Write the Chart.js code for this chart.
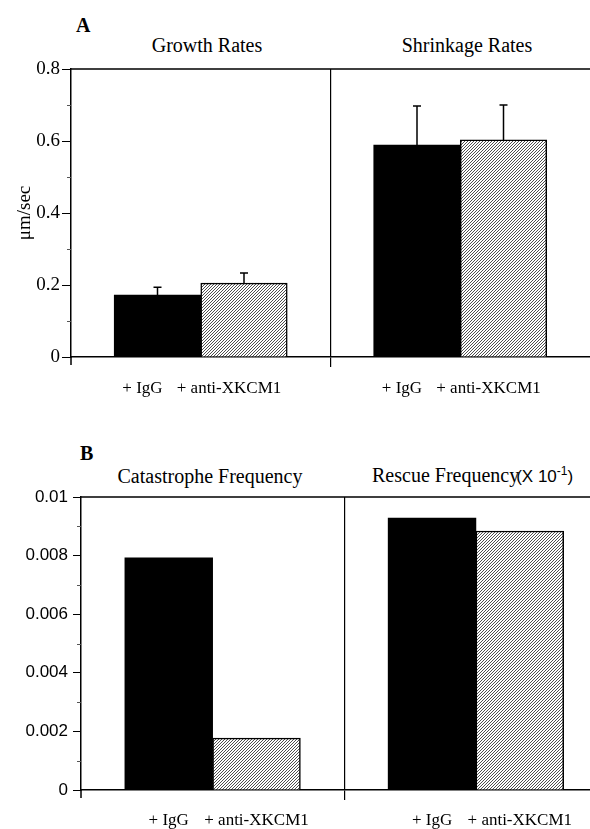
<!DOCTYPE html>
<html lang="en">
<head>
<meta charset="UTF-8">
<title>XKCM1 microtubule dynamics</title>
<script src="https://cdn.jsdelivr.net/npm/chart.js@4"></script>
<style>
  body { margin: 0; background: #fff; width: 590px; height: 829px; position: relative; overflow: hidden; font-family: 'Liberation Serif', serif; color: #000; }
  canvas { position: absolute; left: 0; }
  #chartA { top: 0; }
  #chartB { top: 400px; }
  .lbl { position: absolute; white-space: nowrap; font-size: 20px; line-height: 20px; }
  .letter { font-weight: bold; }
  .ctr { width: 300px; text-align: center; }
  .sans { font-family: 'Liberation Sans', Arial, sans-serif; font-size: 17px; margin-left: -3px; }
  .sans sup { font-size: 12px; vertical-align: 7px; line-height: 0; }
</style>
</head>
<body>
  <div class="lbl letter" style="left:76px; top:15px;">A</div>
  <div class="lbl ctr" style="left:57px; top:35px;">Growth Rates</div>
  <div class="lbl ctr" style="left:317px; top:35px;">Shrinkage Rates</div>

  <div class="lbl letter" style="left:80px; top:443px;">B</div>
  <div class="lbl ctr" style="left:60px; top:466px;">Catastrophe Frequency</div>
  <div class="lbl" style="left:372px; top:465px;">Rescue Frequency<span class="sans">(X 10<sup>-1</sup>)</span></div>

  <canvas id="chartA" width="590" height="400"></canvas>
  <canvas id="chartB" width="590" height="429"></canvas>

<script>
// data
const conditions = ['+ IgG', '+ anti-XKCM1'];

const growthRates = [0.172, 0.205];
const growthErr = [0.022, 0.028];
const shrinkageRates = [0.589, 0.603];
const shrinkageErr = [0.108, 0.097];

const catastropheFreq = [0.00792, 0.00177];
const rescueFreq = [0.00928, 0.00884];

const yTicksA = [0, 0.2, 0.4, 0.6, 0.8];
const yTickLabelsA = ['0', '0.2', '0.4', '0.6', '0.8'];
const yTicksB = [0, 0.002, 0.004, 0.006, 0.008, 0.01];
const yTickLabelsB = ['0', '0.002', '0.004', '0.006', '0.008', '0.01'];

// slot positions on the x scale: two sub-plots split at 3
const leftSlots = [1, 2];
const rightSlots = [4, 5];
const divider = 3;

function hatchPattern(ctx) {
  const tile = document.createElement('canvas');
  tile.width = 3;
  tile.height = 3;
  const g = tile.getContext('2d');
  g.fillStyle = '#fff';
  g.fillRect(0, 0, 3, 3);
  g.strokeStyle = '#222';
  g.lineWidth = 0.8;
  g.beginPath();
  g.moveTo(0, 3); g.lineTo(3, 0);
  g.moveTo(-1, 1); g.lineTo(1, -1);
  g.moveTo(2, 4); g.lineTo(4, 2);
  g.stroke();
  return ctx.createPattern(tile, 'repeat');
}

// top frame line, minor y ticks, axis overshoot and error bars
const framePlugin = {
  id: 'frame',
  afterDatasetsDraw(chart) {
    const { ctx, chartArea: a, scales: { y } } = chart;
    ctx.save();
    ctx.strokeStyle = '#000';
    ctx.lineWidth = 1.5;
    ctx.beginPath();
    ctx.moveTo(a.left, a.top);
    ctx.lineTo(a.right, a.top);
    ctx.moveTo(a.left, a.bottom);
    ctx.lineTo(a.left, a.bottom + 8);
    ctx.stroke();

    // minor ticks halfway between the labelled ones
    const major = chart.options.scales.y.tickValues;
    ctx.strokeStyle = '#555';
    ctx.lineWidth = 1;
    ctx.beginPath();
    for (let i = 0; i < major.length - 1; i++) {
      const py = Math.round(y.getPixelForValue((major[i] + major[i + 1]) / 2)) + 0.5;
      ctx.moveTo(a.left - 4, py);
      ctx.lineTo(a.left, py);
    }
    ctx.stroke();

    // error bars (upper half only)
    ctx.strokeStyle = '#000';
    ctx.lineWidth = 1.5;
    chart.data.datasets.forEach((ds, di) => {
      if (!ds.errors) return;
      const meta = chart.getDatasetMeta(di);
      meta.data.forEach((bar, i) => {
        const top = y.getPixelForValue(ds.data[i].y + ds.errors[i]);
        ctx.beginPath();
        ctx.moveTo(bar.x, bar.y);
        ctx.lineTo(bar.x, top);
        ctx.moveTo(bar.x - 4, top);
        ctx.lineTo(bar.x + 4, top);
        ctx.stroke();
      });
    });
    ctx.restore();
  }
};

function makePanel(id, cfg) {
  const canvas = document.getElementById(id);
  const ctx = canvas.getContext('2d');

  const igg = {
    label: conditions[0],
    data: [{ x: leftSlots[0], y: cfg.left[0] }, { x: rightSlots[0], y: cfg.right[0] }],
    backgroundColor: '#000',
    borderWidth: 0,
    grouped: false,
    barPercentage: 1,
    categoryPercentage: 1,
    errors: cfg.err ? [cfg.err.left[0], cfg.err.right[0]] : null
  };
  const anti = {
    label: conditions[1],
    data: [{ x: leftSlots[1], y: cfg.left[1] }, { x: rightSlots[1], y: cfg.right[1] }],
    backgroundColor: hatchPattern(ctx),
    borderColor: '#000',
    borderWidth: 1.5,
    grouped: false,
    barPercentage: 1,
    categoryPercentage: 1,
    errors: cfg.err ? [cfg.err.left[1], cfg.err.right[1]] : null
  };

  const xLabel = v => {
    if (leftSlots.includes(v)) return conditions[leftSlots.indexOf(v)];
    if (rightSlots.includes(v)) return conditions[rightSlots.indexOf(v)];
    return '';
  };

  return new Chart(canvas, {
    type: 'bar',
    data: { datasets: [igg, anti] },
    plugins: [framePlugin],
    options: {
      responsive: false,
      animation: false,
      layout: { padding: { top: cfg.top, left: 0, right: 0, bottom: 0 } },
      plugins: { legend: { display: false }, tooltip: { enabled: false } },
      scales: {
        x: {
          type: 'linear',
          offset: false,
          min: 0,
          max: cfg.xMax,
          afterBuildTicks: s => { s.ticks = [...leftSlots, divider, ...rightSlots].map(v => ({ value: v })); },
          afterFit: s => { s.height = cfg.xHeight; },
          ticks: {
            autoSkip: false,
            maxRotation: 0,
            minRotation: 0,
            padding: cfg.xPad,
            labelOffset: cfg.labelOffset,
            color: '#000',
            font: { family: 'Liberation Serif', size: 17 },
            callback: v => xLabel(v)
          },
          grid: {
            offset: false,
            drawOnChartArea: true,
            tickLength: 10,
            lineWidth: 1.2,
            color: c => (c.tick && c.tick.value === divider ? '#000' : 'rgba(0,0,0,0)'),
            tickColor: c => (c.tick && c.tick.value === divider ? '#000' : 'rgba(0,0,0,0)')
          },
          border: { display: true, color: '#000', width: 1.5 }
        },
        y: {
          min: 0,
          max: cfg.yTicks[cfg.yTicks.length - 1],
          tickValues: cfg.yTicks,
          afterBuildTicks: s => { s.ticks = cfg.yTicks.map(v => ({ value: v })); },
          afterFit: s => { s.width = cfg.yWidth; },
          ticks: {
            padding: cfg.yPad,
            color: '#000',
            font: cfg.yFont,
            callback: (v, i) => cfg.yLabels[i]
          },
          grid: { drawOnChartArea: false, drawTicks: true, tickLength: cfg.yTickLen, color: '#000', lineWidth: 1 },
          border: { display: true, color: '#000', width: 1.5 },
          title: cfg.yTitle
            ? { display: true, text: cfg.yTitle, color: '#000', font: { family: 'Liberation Serif', size: 19 }, padding: { top: 14, bottom: 0 } }
            : { display: false }
        }
      }
    }
  });
}

makePanel('chartA', {
  left: growthRates,
  right: shrinkageRates,
  err: { left: growthErr, right: shrinkageErr },
  top: 69,
  xHeight: 43,
  xMax: 6,
  xPad: 11,
  labelOffset: -15,
  yTicks: yTicksA,
  yLabels: yTickLabelsA,
  yWidth: 71,
  yPad: 2,
  yTickLen: 9,
  yFont: { family: 'Liberation Serif', size: 19 },
  yTitle: 'μm/sec'
});

makePanel('chartB', {
  left: catastropheFreq,
  right: rescueFreq,
  err: null,
  top: 97,
  xHeight: 39,
  xMax: 5.8,
  xPad: 10,
  labelOffset: 0,
  yTicks: yTicksB,
  yLabels: yTickLabelsB,
  yWidth: 81,
  yPad: 5,
  yTickLen: 8,
  yFont: { family: 'Liberation Sans', size: 17 },
  yTitle: null
});
</script>
</body>
</html>
